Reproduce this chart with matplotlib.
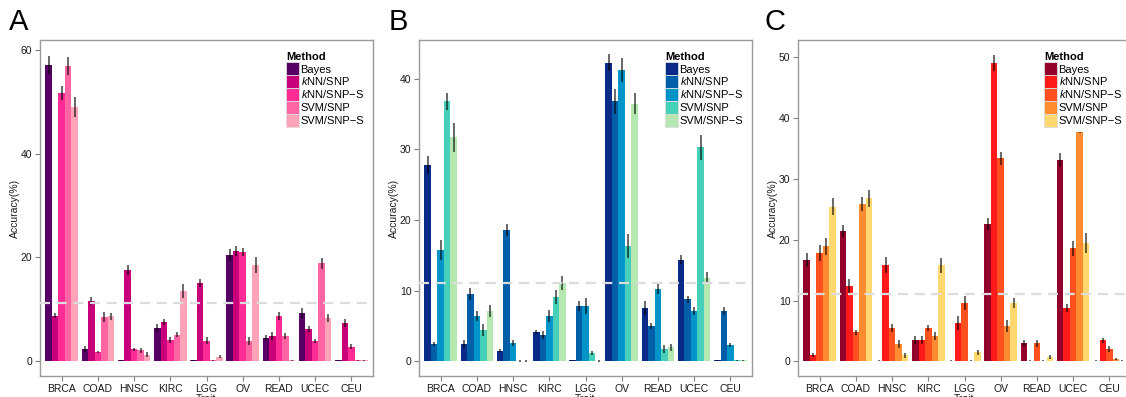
import numpy as np
import matplotlib
matplotlib.use('Agg')
import matplotlib.pyplot as plt
from matplotlib.patches import Patch

plt.rcParams['font.family'] = ['Liberation Sans', 'DejaVu Sans']
plt.rcParams['mathtext.fontset'] = 'custom'
plt.rcParams['mathtext.rm'] = 'Liberation Sans'
plt.rcParams['mathtext.it'] = 'Liberation Sans:italic'

# ── Data ──────────────────────────────────────────────────────────────────────
traits = ['BRCA', 'COAD', 'HNSC', 'KIRC', 'LGG', 'OV', 'READ', 'UCEC', 'CEU']
methods = ['Bayes', r'$\it{k}$NN/SNP', r'$\it{k}$NN/SNP−S', 'SVM/SNP', 'SVM/SNP−S']
chance = 100 / 9

# panel A  (rows = methods, cols = traits)
acc_a = [
    [57.1, 2.3, 0.1, 6.3, 0.1, 20.4, 4.4, 9.2, 0.1],
    [8.7, 11.5, 17.5, 7.5, 15.0, 21.2, 4.8, 6.2, 7.3],
    [51.7, 1.7, 2.2, 4.0, 3.9, 21.0, 8.7, 3.8, 2.7],
    [56.9, 8.5, 2.0, 5.0, 0.1, 3.8, 4.8, 18.8, 0.1],
    [49.0, 8.6, 1.2, 13.5, 0.8, 18.5, 0.1, 8.3, 0.1],
]
err_a = [
    [1.7, 0.6, 0.1, 0.8, 0.1, 1.1, 0.6, 1.0, 0.1],
    [0.5, 0.8, 0.9, 0.6, 0.8, 1.0, 0.7, 0.6, 0.7],
    [1.4, 0.2, 0.3, 0.6, 0.6, 0.8, 0.8, 0.4, 0.5],
    [1.8, 1.0, 0.5, 0.5, 0.1, 0.8, 0.6, 1.1, 0.1],
    [2.0, 0.7, 0.4, 1.3, 0.3, 1.6, 0.1, 0.8, 0.1],
]

# panel B
acc_b = [
    [27.8, 2.45, 1.46, 4.15, 0.1, 42.3, 7.55, 14.4, 0.1],
    [2.45, 9.5, 18.6, 3.7, 7.8, 36.8, 5.0, 8.8, 7.1],
    [15.8, 6.4, 2.6, 6.4, 7.8, 41.3, 10.25, 7.1, 2.3],
    [36.8, 4.4, 0.05, 9.1, 1.2, 16.35, 1.75, 30.3, 0.1],
    [31.7, 7.1, 0.05, 11.1, 0.05, 36.5, 2.0, 11.8, 0.1],
]
err_b = [
    [1.3, 0.6, 0.2, 0.3, 0.1, 1.2, 1.0, 0.6, 0.1],
    [0.3, 0.8, 0.9, 0.6, 0.7, 1.8, 0.4, 0.5, 0.6],
    [1.4, 0.7, 0.4, 0.8, 1.1, 1.7, 0.8, 0.6, 0.3],
    [1.2, 0.8, 0.1, 1.0, 0.3, 1.7, 0.6, 1.8, 0.1],
    [2.1, 0.8, 0.1, 1.0, 0.1, 1.5, 0.5, 0.9, 0.1],
]

# panel C
acc_c = [
    [16.7, 21.4, 0.1, 3.5, 0.1, 22.6, 3.0, 33.1, 0.1],
    [1.0, 12.4, 15.8, 3.5, 6.3, 49.1, 0.1, 8.8, 3.5],
    [17.8, 4.8, 5.5, 5.5, 9.6, 33.4, 3.0, 18.6, 2.0],
    [18.9, 25.9, 2.85, 4.2, 0.1, 5.8, 0.1, 39.0, 0.4],
    [25.4, 26.8, 1.0, 15.8, 1.5, 9.6, 0.7, 19.5, 0.1],
]
err_c = [
    [1.1, 1.0, 0.1, 0.7, 0.1, 1.0, 0.5, 1.2, 0.1],
    [0.3, 1.2, 1.3, 0.6, 1.1, 1.3, 0.1, 0.6, 0.4],
    [1.3, 0.4, 0.6, 0.5, 1.2, 1.1, 0.6, 1.2, 0.5],
    [1.4, 1.2, 0.6, 0.6, 0.1, 1.0, 0.1, 1.5, 0.1],
    [1.4, 1.4, 0.4, 1.2, 0.4, 0.8, 0.3, 1.6, 0.1],
]

colors_a = ['#560066', '#C8007A', '#FF2C96', '#FF64A4', '#FFA3B8']
colors_b = ['#0A2A88', '#005FA8', '#0094C8', '#46CFB9', '#B5E8B0']
colors_c = ['#92002B', '#FF1A1A', '#FF5020', '#FF8C30', '#FFD870']

# ── Layout (pixels -> figure fractions) ───────────────────────────────────────
W, H = 1126, 397
fig = plt.figure(figsize=(W / 100, H / 100), dpi=100)

panels = [
    ('A', 40, 9, acc_a, err_a, colors_a, (-2.95, 61.95), [0, 20, 40, 60]),
    ('B', 419, 389, acc_b, err_b, colors_b, (-2.1, 45.5), [0, 10, 20, 30, 40]),
    ('C', 798, 765, acc_c, err_c, colors_c, (-2.4, 52.85), [0, 10, 20, 30, 40, 50]),
]

x = np.arange(1, len(traits) + 1)
bw = 0.18

for letter, left_px, lab_px, acc, err, cols, ylim, yticks in panels:
    ax = fig.add_axes([left_px / W, (H - 376) / H, 333 / W, 336 / H])
    for i, m in enumerate(methods):
        pos = x + (i - 2) * bw
        ax.bar(pos, acc[i], width=bw, color=cols[i], linewidth=0, zorder=2)
        vals = np.array(acc[i])
        e = np.array(err[i])
        ax.vlines(pos, vals - e, vals + e, color='black', alpha=0.75, lw=1.1, zorder=3)
    ax.axhline(chance, color='#dcdcdc', lw=1.6, ls=(0, (4.5, 3)), zorder=4)

    ax.set_xlim(0.4, len(traits) + 0.6)
    ax.set_ylim(*ylim)
    ax.set_xticks(x)
    ax.set_xticklabels(traits)
    ax.set_yticks(yticks)
    ax.tick_params(labelsize=7.5, colors='#7f7f7f', labelcolor='#1a1a1a', length=3.5, width=0.8, pad=2)
    for s in ax.spines.values():
        s.set_color('#9a9a9a')
        s.set_linewidth(1.0)
    ax.set_xlabel('Trait', fontsize=7.5, color='#1a1a1a', labelpad=0.5)
    ax.set_ylabel('Accuracy(%)', fontsize=7.5, color='#1a1a1a', labelpad=0.5)

    handles = [Patch(facecolor=c, edgecolor='#dddddd', linewidth=0.6) for c in cols]
    leg = ax.legend(handles, methods, title='Method', loc='upper left',
                    bbox_to_anchor=(0.724, 0.978), fontsize=8, title_fontsize=8,
                    handlelength=1.2, handleheight=1.4, handletextpad=0.1,
                    labelspacing=0.0, borderpad=0.45, borderaxespad=0,
                    frameon=True, facecolor='white', edgecolor='none', framealpha=1)
    leg.get_title().set_fontweight('bold')
    leg._legend_box.align = 'left'
    leg.set_zorder(10)

    fig.text(lab_px / W, (H - 22) / H, letter, fontsize=21, va='center', ha='left')

fig.savefig('out.png', dpi=100)
